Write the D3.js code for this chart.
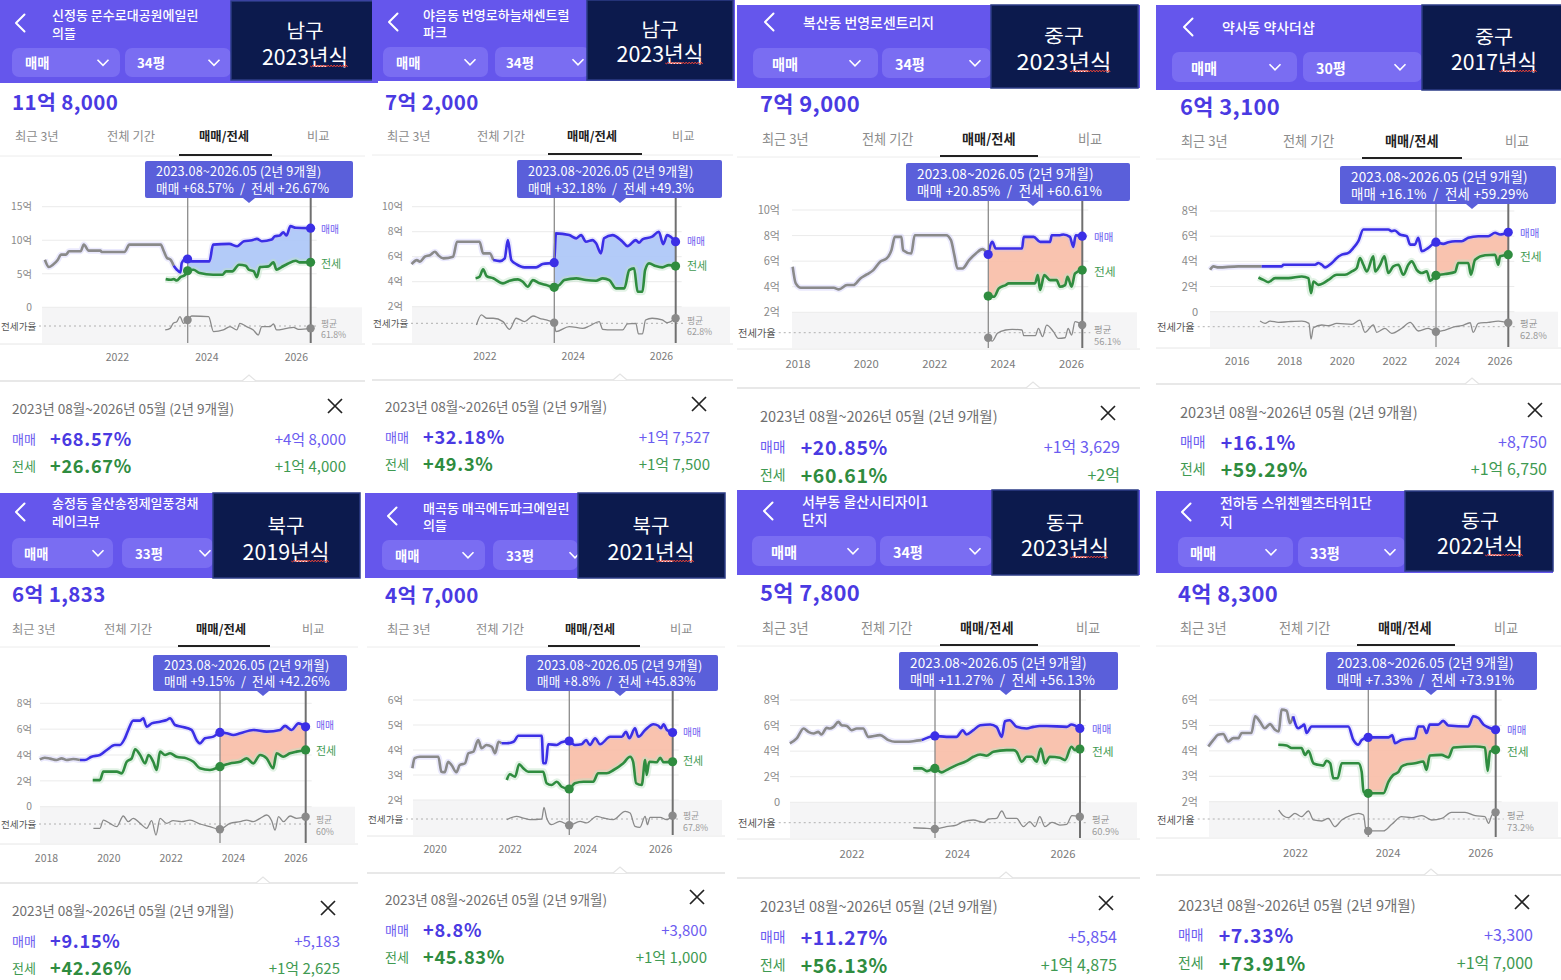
<!DOCTYPE html>
<html><head><meta charset="utf-8">
<script src="https://cdn.jsdelivr.net/npm/d3@7"></script>
<style>
html,body{margin:0;padding:0;background:#fff;}
svg{display:block;font-family:"Noto Sans CJK KR","Noto Sans",sans-serif;}
</style></head><body>
<svg id="c" width="1561" height="980"></svg>
<script>
// ---------------- DATA ----------------
const titles = [["신정동 문수로대공원에일린","의뜰"],["야음동 번영로하늘채센트럴","파크"],["복산동 번영로센트리지"],["약사동 약사더샵"],["송정동 울산송정제일풍경채","레이크뷰"],["매곡동 매곡에듀파크에일린","의뜰"],["서부동 울산시티자이1","단지"],["전하동 스위첸웰츠타워1단","지"]];
const districts = ["남구","남구","중구","중구","북구","북구","동구","동구"];
const builtYears = ["2023년식","2023년식","2023년식","2017년식","2019년식","2021년식","2023년식","2022년식"];
const sizes = ["34평","34평","34평","30평","33평","33평","34평","33평"];
const prices = ["11억 8,000","7억 2,000","7억 9,000","6억 3,100","6억 1,833","4억 7,000","5억 7,800","4억 8,300"];
const salePct = ["+68.57%","+32.18%","+20.85%","+16.1%","+9.15%","+8.8%","+11.27%","+7.33%"];
const jeonsePct = ["+26.67%","+49.3%","+60.61%","+59.29%","+42.26%","+45.83%","+56.13%","+73.91%"];
const saleDiff = ["+4억 8,000","+1억 7,527","+1억 3,629","+8,750","+5,183","+3,800","+5,854","+3,300"];
const jeonseDiff = ["+1억 4,000","+1억 7,500","+2억","+1억 6,750","+1억 2,625","+1억 1,000","+1억 4,875","+1억 7,000"];
const ratioAvg = [61.8,62.8,56.1,62.8,60,67.8,60.9,73.2];
const yTicks = [[0,5,10,15],[2,4,6,8,10],[2,4,6,8,10],[0,2,4,6,8],[0,2,4,6,8],[2,3,4,5,6],[0,2,4,6,8],[2,3,4,5,6]];
const xTicks = [[2022,2024,2026],[2022,2024,2026],[2018,2020,2022,2024,2026],[2016,2018,2020,2022,2024,2026],[2018,2020,2022,2024,2026],[2020,2022,2024,2026],[2022,2024,2026],[2022,2024,2026]];
const saleColorFrom = [2023.27,2022.2,2023.58,2016.95,2019.09,2021.78,2023.33,2021.96];
const periodStart = 2023.583, periodEnd = 2026.333;
const periodShort = "2023.08~2026.05 (2년 9개월)";
const periodLong = "2023년 08월~2026년 05월 (2년 9개월)";
const tabs = ["최근 3년","전체 기간","매매/전세","비교"];

const sale1 = [[2020.39,7.1],[2020.48,6.0],[2020.57,6.35],[2020.68,7.1],[2020.75,7.85],[2020.86,7.85],[2020.93,8.35],[2021.19,8.35],[2021.26,9.35],[2021.37,8.45],[2021.63,8.45],[2021.66,8.25],[2022.17,8.25],[2022.28,9.35],[2022.98,9.35],[2023.05,8.35],[2023.12,7.35],[2023.2,7.1],[2023.27,6.2],[2023.34,5.6],[2023.42,5.2],[2023.45,6.6],[2023.53,7.2],[2023.58,7.2],[2023.67,6.85],[2024.07,6.85],[2024.15,9.35],[2024.51,9.45],[2024.69,9.1],[2024.84,9.85],[2025.02,10.0],[2025.13,10.2],[2025.24,9.85],[2025.46,10.1],[2025.53,10.6],[2025.64,10.7],[2025.72,11.2],[2025.79,10.7],[2025.88,12.1],[2026.0,11.85],[2026.33,11.8]];
const jeonse1 = [[2023.09,4.2],[2023.2,4.1],[2023.27,4.2],[2023.34,4.0],[2023.42,4.5],[2023.53,4.85],[2023.58,5.45],[2023.71,5.6],[2023.85,5.1],[2024.15,4.85],[2024.36,4.85],[2024.44,5.35],[2024.58,5.35],[2024.73,6.35],[2024.88,6.2],[2024.95,5.6],[2025.06,5.35],[2025.13,4.5],[2025.2,6.0],[2025.39,6.1],[2025.5,6.7],[2025.57,5.6],[2025.68,6.0],[2025.82,6.5],[2026.0,6.95],[2026.08,6.7],[2026.33,6.7]];
const ratio1 = [[2023.08,57.4],[2023.19,59.2],[2023.26,64.8],[2023.34,66.6],[2023.41,72.2],[2023.49,64.8],[2023.58,68.5],[2023.67,72.9],[2024.05,72.2],[2024.16,55.5],[2024.38,57.4],[2024.53,61.1],[2024.68,57.4],[2024.75,64.8],[2024.9,61.1],[2025.05,57.4],[2025.16,51.8],[2025.24,61.1],[2025.42,61.1],[2025.5,64.0],[2025.57,57.4],[2025.8,59.2],[2025.95,60.3],[2026.06,58.1],[2026.33,59.2]];

const sale2 = [[2020.35,5.41],[2020.47,5.73],[2020.54,5.6],[2020.65,6.0],[2020.77,6.13],[2020.88,6.4],[2020.95,6.13],[2021.07,5.87],[2021.29,6.0],[2021.38,7.2],[2021.89,7.2],[2021.97,6.27],[2022.12,6.27],[2022.2,5.73],[2022.35,5.65],[2022.46,5.87],[2022.53,7.33],[2022.61,5.73],[2022.72,5.41],[2022.91,5.15],[2023.17,5.15],[2023.32,5.41],[2023.58,5.52],[2023.62,7.87],[2023.92,7.73],[2024.08,7.47],[2024.19,7.73],[2024.3,7.2],[2024.45,7.33],[2024.53,7.07],[2024.64,6.27],[2024.71,7.47],[2024.9,7.73],[2025.13,7.2],[2025.24,6.85],[2025.43,7.33],[2025.5,7.12],[2025.58,7.39],[2025.8,7.6],[2025.95,8.0],[2026.05,7.01],[2026.14,7.73],[2026.33,7.2]];
const jeonse2 = [[2021.8,4.27],[2021.89,4.4],[2021.97,4.99],[2022.05,4.45],[2022.2,4.27],[2022.42,3.87],[2022.57,4.08],[2022.76,4.19],[2022.87,4.0],[2022.98,3.6],[2023.1,4.13],[2023.25,3.87],[2023.4,3.73],[2023.58,3.55],[2023.7,3.73],[2023.81,4.13],[2024.08,4.27],[2024.3,4.13],[2024.53,4.08],[2024.68,4.27],[2024.83,4.13],[2024.98,3.47],[2025.17,3.47],[2025.28,4.93],[2025.39,5.07],[2025.47,3.2],[2025.58,3.2],[2025.64,4.93],[2025.73,5.47],[2025.88,5.25],[2026.03,5.15],[2026.18,5.33],[2026.33,5.25]];
const ratio2 = [[2021.82,60.9],[2021.93,72.1],[2022.05,68.4],[2022.2,68.4],[2022.42,64.7],[2022.57,56.1],[2022.72,68.4],[2022.91,64.7],[2023.1,70.9],[2023.25,68.4],[2023.4,66.5],[2023.58,63.5],[2023.62,53.5],[2023.92,59.1],[2024.23,57.2],[2024.38,59.8],[2024.6,64.7],[2024.68,56.1],[2024.9,55.4],[2025.13,55.4],[2025.24,62.1],[2025.43,62.8],[2025.49,51.0],[2025.58,51.0],[2025.65,66.5],[2025.8,68.4],[2026.03,66.5],[2026.14,63.5],[2026.33,68.4]];

const sale3 = [[2017.86,5.56],[2017.95,4.26],[2018.1,3.92],[2019.06,3.92],[2019.21,3.79],[2019.45,4.13],[2019.64,4.13],[2019.84,4.65],[2020.03,4.96],[2020.22,5.3],[2020.42,5.95],[2020.61,6.21],[2020.75,6.86],[2020.85,7.9],[2021.04,7.9],[2021.09,6.86],[2021.33,6.6],[2021.43,8.03],[2022.35,8.03],[2022.49,7.64],[2022.59,6.47],[2022.68,5.43],[2022.83,5.43],[2023.02,6.08],[2023.22,6.6],[2023.41,6.94],[2023.58,6.52],[2023.7,7.51],[2023.8,6.99],[2024.57,6.99],[2024.62,7.9],[2024.91,7.9],[2025.1,7.51],[2025.39,7.51],[2025.44,8.03],[2025.68,8.03],[2025.78,8.08],[2025.97,7.9],[2026.07,7.12],[2026.14,8.03],[2026.33,7.95]];
const jeonse3 = [[2023.46,3.27],[2023.58,3.27],[2023.75,3.22],[2023.89,3.87],[2024.09,4.13],[2024.18,4.26],[2024.95,4.26],[2025.03,4.91],[2025.1,3.74],[2025.22,4.91],[2025.39,4.52],[2025.58,4.52],[2025.68,4.0],[2025.83,4.13],[2025.9,4.78],[2026.02,4.0],[2026.12,5.04],[2026.33,5.3]];
const ratio3 = [[2023.58,50.5],[2023.7,46.8],[2023.85,55.4],[2024.09,59.1],[2024.28,59.8],[2024.57,59.1],[2024.62,52.8],[2024.96,52.8],[2025.05,60.9],[2025.17,51.7],[2025.29,64.6],[2025.49,57.2],[2025.63,49.8],[2025.83,50.5],[2025.92,60.9],[2026.02,53.5],[2026.12,68.3],[2026.33,64.6]];

const sale4 = [[2014.99,3.33],[2015.12,3.6],[2015.31,3.52],[2016.06,3.6],[2016.95,3.6],[2017.72,3.6],[2017.78,3.73],[2018.98,3.73],[2019.11,3.87],[2019.24,3.73],[2019.36,3.52],[2019.62,3.87],[2019.81,4.27],[2020.0,4.53],[2020.25,4.67],[2020.44,5.07],[2020.63,5.6],[2020.82,6.53],[2021.77,6.53],[2021.9,6.4],[2022.02,6.45],[2022.21,6.13],[2022.47,6.0],[2022.6,5.33],[2022.78,5.33],[2022.91,5.87],[2023.04,4.8],[2023.29,5.07],[2023.58,5.52],[2023.86,5.39],[2024.05,5.52],[2024.31,5.6],[2024.56,5.6],[2024.81,5.87],[2025.19,6.0],[2025.57,6.0],[2025.83,6.27],[2026.02,6.13],[2026.33,6.31]];
const jeonse4 = [[2016.83,2.72],[2017.02,2.53],[2017.21,2.35],[2017.46,2.67],[2017.97,2.67],[2018.48,2.8],[2018.73,2.67],[2018.83,1.47],[2018.92,2.4],[2019.11,2.13],[2019.3,2.27],[2019.49,2.53],[2019.81,2.93],[2020.12,2.93],[2020.38,3.2],[2020.57,3.47],[2020.69,4.27],[2020.82,3.73],[2020.95,3.2],[2021.2,4.4],[2021.27,3.2],[2021.46,3.73],[2021.62,4.4],[2021.77,3.07],[2021.96,3.6],[2022.15,3.73],[2022.34,2.93],[2022.53,3.73],[2022.66,4.0],[2022.85,3.33],[2023.04,3.07],[2023.23,3.2],[2023.36,2.45],[2023.58,2.88],[2023.93,2.99],[2024.31,3.15],[2024.43,3.87],[2024.81,3.87],[2024.91,2.93],[2025.07,4.13],[2025.45,4.48],[2025.83,4.53],[2025.95,3.73],[2026.02,4.4],[2026.33,4.53]];
const ratio4 = [[2016.89,69.1],[2017.08,66.5],[2017.27,69.1],[2017.59,67.6],[2017.97,68.4],[2018.48,69.1],[2018.75,66.5],[2018.83,49.1],[2018.92,61.7],[2019.24,64.7],[2019.49,63.9],[2019.81,66.5],[2020.38,65.4],[2020.69,70.2],[2020.88,56.5],[2021.2,64.7],[2021.33,56.5],[2021.64,61.0],[2021.9,55.4],[2022.28,61.0],[2022.6,67.6],[2022.91,58.0],[2023.29,61.0],[2023.58,57.2],[2023.93,59.1],[2024.31,62.8],[2024.56,63.9],[2024.88,67.2],[2025.0,56.5],[2025.19,66.5],[2025.57,67.6],[2025.95,69.1],[2026.33,67.2]];

const sale5 = [[2017.8,3.66],[2017.96,3.79],[2018.13,3.72],[2018.34,3.61],[2018.5,3.74],[2018.66,3.61],[2018.87,3.69],[2019.09,3.61],[2019.25,3.61],[2019.46,3.87],[2019.73,4.0],[2019.95,4.39],[2020.21,4.77],[2020.37,4.77],[2020.53,5.29],[2020.64,5.94],[2020.8,6.66],[2021.02,6.66],[2021.12,6.84],[2021.23,6.19],[2021.39,6.45],[2021.66,6.58],[2021.87,6.71],[2021.98,6.84],[2022.14,6.32],[2022.35,6.19],[2022.67,5.94],[2022.83,5.16],[2022.94,4.9],[2023.1,5.29],[2023.37,5.42],[2023.58,5.75],[2023.8,5.68],[2024.01,5.55],[2024.23,5.68],[2024.65,5.94],[2025.08,5.81],[2025.51,5.94],[2025.67,6.25],[2025.88,5.94],[2026.1,6.45],[2026.33,6.18]];
const jeonse5 = [[2019.5,2.06],[2019.73,2.06],[2019.84,2.71],[2020.27,2.71],[2020.43,2.58],[2020.59,3.48],[2020.75,3.74],[2020.86,4.44],[2021.02,4.0],[2021.18,3.35],[2021.29,4.0],[2021.44,3.48],[2021.55,2.84],[2021.66,4.26],[2021.82,4.0],[2021.98,4.13],[2022.19,3.87],[2022.51,3.74],[2022.73,3.48],[2022.94,2.97],[2023.26,2.84],[2023.58,3.1],[2023.9,3.35],[2024.23,3.48],[2024.44,3.74],[2024.65,3.35],[2024.87,4.0],[2025.08,3.74],[2025.29,2.97],[2025.4,4.13],[2025.61,3.87],[2025.83,4.13],[2026.04,4.26],[2026.33,4.39]];
const ratio5 = [[2019.52,55.2],[2019.73,55.2],[2019.84,64.4],[2020.05,60.7],[2020.27,57.0],[2020.48,68.9],[2020.64,62.6],[2020.8,66.3],[2021.02,60.7],[2021.23,55.2],[2021.39,63.7],[2021.53,47.8],[2021.66,66.3],[2021.87,60.7],[2022.08,63.7],[2022.35,62.6],[2022.62,64.4],[2022.94,60.0],[2023.26,57.0],[2023.58,54.1],[2023.9,60.7],[2024.23,62.6],[2024.44,64.4],[2024.65,62.6],[2024.87,66.3],[2025.08,70.0],[2025.24,63.7],[2025.35,53.3],[2025.46,68.1],[2025.62,62.6],[2025.83,68.9],[2026.04,66.3],[2026.33,68.1]];

const sale6 = [[2019.41,3.27],[2019.47,3.67],[2019.61,3.73],[2020.1,3.73],[2020.18,3.13],[2020.27,3.11],[2020.36,3.53],[2020.45,3.4],[2020.58,3.11],[2020.67,3.4],[2020.81,3.47],[2020.9,3.87],[2021.03,3.93],[2021.16,4.4],[2021.25,4.07],[2021.38,4.2],[2021.52,4.13],[2021.61,3.87],[2021.7,4.33],[2021.78,4.27],[2021.92,4.27],[2022.1,4.33],[2022.23,4.57],[2022.85,4.57],[2022.89,3.47],[2022.96,3.47],[2023.02,4.23],[2023.25,4.2],[2023.38,4.31],[2023.58,4.36],[2023.73,4.2],[2023.91,4.23],[2024.03,4.4],[2024.13,4.2],[2024.27,4.47],[2024.4,4.23],[2024.67,4.53],[2024.98,4.53],[2025.09,4.73],[2025.18,4.47],[2025.33,4.87],[2025.42,4.53],[2025.6,4.8],[2025.82,5.03],[2025.95,4.97],[2026.02,4.87],[2026.09,5.03],[2026.18,4.8],[2026.33,4.7]];
const jeonse6 = [[2021.92,2.8],[2022.0,3.03],[2022.14,2.93],[2022.25,3.43],[2022.36,3.27],[2022.49,3.13],[2022.89,3.13],[2022.98,2.67],[2023.11,2.6],[2023.25,2.73],[2023.38,2.53],[2023.58,2.44],[2023.73,2.67],[2023.96,2.73],[2024.22,2.73],[2024.35,3.07],[2024.58,3.07],[2024.76,3.2],[2025.02,3.47],[2025.2,3.73],[2025.28,3.53],[2025.36,2.67],[2025.51,2.6],[2025.6,3.6],[2025.64,3.0],[2025.71,3.53],[2025.91,3.51],[2026.0,3.69],[2026.09,3.51],[2026.33,3.53]];
const ratio6 = [[2021.92,67.1],[2022.18,70.8],[2022.36,68.9],[2022.54,67.1],[2022.85,67.8],[2022.91,80.8],[2022.98,68.9],[2023.11,61.5],[2023.33,65.2],[2023.58,60.8],[2023.87,65.2],[2024.04,63.4],[2024.31,70.8],[2024.49,68.9],[2024.75,67.1],[2025.07,76.3],[2025.2,74.5],[2025.33,59.7],[2025.46,58.5],[2025.6,70.8],[2025.66,61.5],[2025.73,69.7],[2026.0,69.7],[2026.17,67.1],[2026.33,71.5]];

const sale7 = [[2020.83,4.6],[2020.96,4.99],[2021.09,5.77],[2021.18,5.51],[2021.28,5.38],[2021.37,5.51],[2021.43,5.3],[2021.53,5.82],[2021.59,5.77],[2021.66,5.9],[2021.75,6.29],[2021.81,6.03],[2021.91,5.97],[2022.0,5.64],[2022.1,5.77],[2022.22,5.77],[2022.32,5.12],[2022.54,5.25],[2022.7,4.86],[2022.82,4.73],[2023.05,4.73],[2023.17,4.78],[2023.33,4.86],[2023.58,5.19],[2023.8,5.12],[2023.99,5.12],[2024.11,5.64],[2024.18,5.3],[2024.31,5.64],[2024.44,6.03],[2024.63,6.08],[2024.75,5.9],[2024.85,5.12],[2024.91,6.34],[2025.0,6.42],[2025.13,5.9],[2025.32,5.77],[2025.45,5.9],[2025.57,5.97],[2025.7,5.97],[2026.08,5.9],[2026.17,6.08],[2026.33,5.78]];
const jeonse7 = [[2023.17,2.65],[2023.33,2.65],[2023.43,2.44],[2023.58,2.65],[2023.71,2.34],[2023.8,2.52],[2023.99,2.91],[2024.18,3.22],[2024.31,3.56],[2024.44,3.74],[2024.56,3.64],[2024.69,3.95],[2024.94,4.08],[2025.07,4.08],[2025.13,3.95],[2025.23,3.17],[2025.32,3.56],[2025.42,3.56],[2025.51,3.17],[2025.59,4.21],[2025.67,3.04],[2025.76,3.56],[2025.95,3.48],[2026.05,3.3],[2026.17,4.34],[2026.24,4.08],[2026.33,4.16]];
const ratio7 = [[2023.17,55.3],[2023.43,54.6],[2023.58,53.9],[2023.8,56.5],[2023.99,58.3],[2024.12,62.0],[2024.31,63.9],[2024.5,61.3],[2024.6,65.0],[2024.75,65.7],[2024.85,73.9],[2024.94,65.7],[2025.13,65.7],[2025.26,56.5],[2025.38,62.0],[2025.48,56.5],[2025.57,67.6],[2025.67,56.5],[2025.8,61.3],[2025.95,58.3],[2026.08,59.0],[2026.18,68.7],[2026.33,67.6]];

const sale8 = [[2020.13,4.17],[2020.24,4.43],[2020.34,4.63],[2020.45,4.66],[2020.56,4.37],[2020.67,4.5],[2020.78,4.5],[2020.85,4.7],[2021.06,4.7],[2021.14,5.36],[2021.24,5.16],[2021.35,4.89],[2021.46,5.05],[2021.57,4.83],[2021.65,4.76],[2021.71,5.62],[2021.82,5.58],[2021.89,5.09],[2021.96,5.36],[2022.07,4.89],[2022.14,4.96],[2022.2,5.03],[2022.25,4.7],[2022.36,4.96],[2023.15,4.96],[2023.26,4.43],[2023.37,4.24],[2023.44,4.43],[2023.58,4.53],[2024.02,4.53],[2024.1,4.61],[2024.16,4.3],[2024.3,4.43],[2024.59,4.5],[2024.66,4.96],[2024.77,4.96],[2024.84,4.7],[2024.91,5.03],[2025.09,5.03],[2025.2,5.18],[2025.31,5.0],[2025.74,4.96],[2025.85,5.36],[2025.96,5.29],[2026.07,5.03],[2026.18,4.92],[2026.33,4.83]];
const jeonse8 = [[2021.64,4.24],[2021.82,4.21],[2021.93,4.11],[2022.14,4.11],[2022.22,3.84],[2022.29,4.0],[2022.4,3.51],[2022.5,3.45],[2022.61,3.42],[2022.68,3.61],[2022.76,3.51],[2022.83,2.92],[2022.92,2.92],[2023.01,3.51],[2023.37,3.51],[2023.44,3.18],[2023.48,2.39],[2023.58,2.33],[2023.91,2.33],[2024.02,2.79],[2024.12,3.05],[2024.23,3.16],[2024.3,3.38],[2024.41,3.47],[2024.59,3.51],[2024.77,3.58],[2024.84,3.25],[2024.91,3.82],[2025.16,3.84],[2025.31,3.74],[2025.42,4.13],[2025.89,4.17],[2026.1,4.13],[2026.16,3.21],[2026.21,3.97],[2026.33,4.04]];
const ratio8 = [[2021.65,83.2],[2021.75,76.9],[2021.86,74.7],[2022.0,79.5],[2022.14,75.8],[2022.29,82.1],[2022.4,72.1],[2022.58,71.0],[2022.72,73.9],[2022.86,64.7],[2023.01,72.1],[2023.22,77.6],[2023.37,79.5],[2023.48,77.6],[2023.53,62.1],[2023.58,59.9],[2023.91,59.9],[2024.09,67.3],[2024.3,75.8],[2024.52,74.7],[2024.74,76.9],[2024.95,72.1],[2025.17,73.9],[2025.38,80.6],[2025.67,80.6],[2025.89,76.9],[2026.1,75.8],[2026.18,68.4],[2026.25,77.6],[2026.33,80.6]];

const saleSeries = [sale1,sale2,sale3,sale4,sale5,sale6,sale7,sale8];
const jeonseSeries = [jeonse1,jeonse2,jeonse3,jeonse4,jeonse5,jeonse6,jeonse7,jeonse8];
const ratioSeries = [ratio1,ratio2,ratio3,ratio4,ratio5,ratio6,ratio7,ratio8];

// ---------------- LAYOUT (positions / styles) ----------------
const layout = [
 {hx0:0,hx1:378,hy0:0,hy1:83,bx0:231,bx1:378,by0:1,by1:80,arrow:[20,23],tx:52,ty:[14,32],dd:[[12,120],[125,231]],ddy:[48,77],ddText:[25,137],chev:[103,214],boxC:[305,29,55],bw:86,nw:37,priceX:12,priceY:101,tabY:136,tabX:[15,107,199,307],ul:[179,272,155],sepY:156,tip:[145,353,161,198],ptr:249,gTop:206.7,gBot:307.3,gL:42,bandB:343,dotY:326,labR:32,vx:[187.7,310.7],axY:356,rx:321,rY:[229,263,323,334],sep2:381,perY:408,xX:[335,406],mY:438,jY:465,valR:346,px0:0,px1:365,fs:1,fill:"#abc5f7"},
 {hx0:372,hx1:735,hy0:0,hy1:81,bx0:587,bx1:733,by0:0,by1:80,arrow:[393,22],tx:423,ty:[14,31],dd:[[383,488],[495,590]],ddy:[47,77],ddText:[396,506],chev:[470,578],boxC:[660,28,52],bw:87,nw:37,priceX:385,priceY:101,tabY:136,tabX:[387,477,567,672],ul:[548,642,154],sepY:155,tip:[517,722,160,198],ptr:620,gTop:206.7,gBot:306.7,gL:412,bandB:343,dotY:323.3,labR:403,vx:[554.3,675.7],axY:355,rx:687,rY:[241,265,320,331],sep2:380,perY:406,xX:[699,404],mY:436,jY:463,valR:710,px0:372,px1:733,fs:1,fill:"#abc5f7"},
 {hx0:737,hx1:1140,hy0:5,hy1:88,bx0:991,bx1:1138,by0:5,by1:88,arrow:[769,22],tx:803,ty:[22],dd:[[753,878],[882,991]],ddy:[48,78],ddText:[772,895],chev:[855,975],boxC:[1064,34,60],bw:95,nw:40,priceX:760,priceY:102,tabY:138,tabX:[762,862,962,1078],ul:[940,1038,156],sepY:157,tip:[906,1130,163,201],ptr:1033,gTop:210,gBot:312.3,gL:792,bandB:348,dotY:332.7,labR:780,vx:[988.3,1082.3],axY:363,rx:1094,rY:[236,270,329,341],sep2:388,perY:415,xX:[1108,413],mY:446,jY:474,valR:1120,px0:737,px1:1140,fs:1.07,fill:"#f8bca6"},
 {hx0:1156,hx1:1561,hy0:5,hy1:90,bx0:1422,bx1:1562,by0:5,by1:90,arrow:[1188,27],tx:1222,ty:[27],dd:[[1172,1297],[1303,1422]],ddy:[52,82],ddText:[1191,1316],chev:[1275,1400],boxC:[1494,35,60],bw:86,nw:38,priceX:1180,priceY:105,tabY:140,tabX:[1181,1283,1385,1505],ul:[1362,1462,158],sepY:159,tip:[1340,1556,166,204],ptr:1472,gTop:211,gBot:311.7,gL:1210,bandB:347,dotY:326.7,labR:1198,vx:[1436,1508.3],axY:360,rx:1520,rY:[232,255,323,335],sep2:384,perY:411,xX:[1535,410],mY:441,jY:468,valR:1547,px0:1156,px1:1561,fs:1.07,fill:"#f8bca6"},
 {hx0:0,hx1:360,hy0:493,hy1:578,bx0:213,bx1:360,by0:493,by1:578,arrow:[20,512],tx:52,ty:[502,520],dd:[[12,113],[122,213]],ddy:[538,568],ddText:[24,135],chev:[98,205],boxC:[286,524,550],bw:87,nw:37,priceX:12,priceY:593,tabY:629,tabX:[12,104,196,302],ul:[178,270,646],sepY:647,tip:[153,347,655,691],ptr:263,gTop:703.3,gBot:806.7,gL:40,bandB:843,dotY:824,labR:32,vx:[220,305.7],axY:857,rx:316,rY:[725,750,819,831],sep2:883,perY:910,xX:[328,908],mY:940,jY:967,valR:340,px0:0,px1:358,fs:1,fill:"#f8bca6"},
 {hx0:365,hx1:725,hy0:493,hy1:578,bx0:578,bx1:725,by0:493,by1:578,arrow:[392,516],tx:423,ty:[507,524],dd:[[382,485],[493,578]],ddy:[540,570],ddText:[395,506],chev:[468,575],boxC:[651,524,550],bw:87,nw:37,priceX:385,priceY:594,tabY:629,tabX:[387,476,565,670],ul:[548,640,646],sepY:647,tip:[526,718,655,691],ptr:620,gTop:700,gBot:800,gL:413,bandB:835,dotY:819,labR:403,vx:[569.3,672.7],axY:848,rx:683,rY:[732,760,815,827],sep2:873,perY:899,xX:[697,897],mY:929,jY:956,valR:707,px0:367,px1:725,fs:1,fill:"#f8bca6"},
 {hx0:737,hx1:1140,hy0:490,hy1:575,bx0:992,bx1:1138,by0:490,by1:575,arrow:[768,511],tx:802,ty:[501,519],dd:[[752,876],[880,992]],ddy:[536,566],ddText:[771,893],chev:[853,975],boxC:[1065,521,546],bw:88,nw:38,priceX:760,priceY:591,tabY:627,tabX:[762,861,960,1076],ul:[940,1038,645],sepY:646,tip:[899,1118,652,690],ptr:1006,gTop:700,gBot:802.3,gL:790,bandB:838,dotY:822.7,labR:780,vx:[935,1080],axY:853,rx:1092,rY:[728,750,819,831],sep2:878,perY:905,xX:[1106,903],mY:936,jY:964,valR:1117,px0:737,px1:1140,fs:1.07,fill:"#f8bca6"},
 {hx0:1156,hx1:1553,hy0:491,hy1:573,bx0:1405,bx1:1553,by0:491,by1:571,arrow:[1186,512],tx:1220,ty:[502,521],dd:[[1178,1293],[1298,1405]],ddy:[537,567],ddText:[1190,1310],chev:[1271,1390],boxC:[1480,519,544],bw:86,nw:38,priceX:1178,priceY:592,tabY:627,tabX:[1180,1279,1378,1494],ul:[1357,1455,645],sepY:646,tip:[1326,1537,652,690],ptr:1431,gTop:700,gBot:801.7,gL:1209,bandB:837,dotY:819,labR:1198,vx:[1368.3,1495.7],axY:852,rx:1507,rY:[729,750,815,827],sep2:875,perY:904,xX:[1522,902],mY:934,jY:962,valR:1533,px0:1156,px1:1561,fs:1.07,fill:"#f8bca6"}
];

const HEADER="#6556ec", DD="#7a6df2", NAVY="#0c1a4d", SALE="#3b2fe6", JEON="#2f8c3f", GRAY="#8a8a8a",
      TIP="#5a5fda", PRICE="#4a3ae2", LSALE="#6b5cf0", LJEON="#3f9a52";

const svg = d3.select("#c");

function drawPanel(i){
  const L = layout[i], f = L.fs;
  const g = svg.append("g");
  const T = (x,y,s,size,color,weight,anchor) => g.append("text").attr("x",x).attr("y",y)
      .attr("dominant-baseline","central").attr("font-size",size*f).attr("fill",color)
      .attr("font-weight",weight||400).attr("text-anchor",anchor||"start").text(s);

  // ---- header ----
  g.append("rect").attr("x",L.hx0).attr("y",L.hy0).attr("width",L.hx1-L.hx0).attr("height",L.hy1-L.hy0).attr("fill",HEADER);
  const [ax,ay] = L.arrow;
  g.append("path").attr("d",`M${ax+4.5},${ay-8.5}L${ax-4},${ay}L${ax+4.5},${ay+8.5}`)
    .attr("fill","none").attr("stroke","#fff").attr("stroke-width",2).attr("stroke-linecap","round").attr("stroke-linejoin","round");
  titles[i].forEach((t,k)=>T(L.tx,L.ty[k],t,13,"#fff",500));
  const ddl = ["매매",sizes[i]];
  L.dd.forEach((d,k)=>{
    const cy=(L.ddy[0]+L.ddy[1])/2;
    g.append("rect").attr("x",d[0]).attr("y",L.ddy[0]).attr("width",d[1]-d[0]).attr("height",L.ddy[1]-L.ddy[0]).attr("rx",7).attr("fill",DD);
    T(L.ddText[k],cy,ddl[k],13.3,"#fff",700);
    const cx=L.chev[k];
    g.append("path").attr("d",`M${cx-5.5},${cy-2.8}L${cx},${cy+2.8}L${cx+5.5},${cy-2.8}`).attr("fill","none").attr("stroke","#fff").attr("stroke-width",1.6);
  });
  g.append("rect").attr("x",L.bx0).attr("y",L.by0).attr("width",L.bx1-L.bx0).attr("height",L.by1-L.by0)
    .attr("fill",NAVY).attr("stroke","#2c3c86").attr("stroke-width",1.5);
  const [bcx,by1,by2] = L.boxC;
  g.append("text").attr("x",bcx).attr("y",by1).attr("dominant-baseline","central").attr("text-anchor","middle")
    .attr("font-size",19).attr("fill","#fff").attr("textLength",L.nw).attr("lengthAdjust","spacingAndGlyphs").text(districts[i]);
  g.append("text").attr("x",bcx).attr("y",by2).attr("dominant-baseline","central").attr("text-anchor","middle")
    .attr("font-size",22).attr("fill","#fff").attr("textLength",L.bw).attr("lengthAdjust","spacingAndGlyphs").text(builtYears[i]);
  // spell-check squiggle under "년식"
  {
    const x0=bcx+L.bw*0.06, x1=bcx+L.bw/2, yy=by2+11;
    let d=`M${x0},${yy}`, k=0;
    for(let xx=x0+1.5; xx<=x1; xx+=1.5, k++) d+=`L${xx},${yy+(k%2?-1:1)}`;
    g.append("path").attr("d",d).attr("fill","none").attr("stroke","#e0413a").attr("stroke-width",1);
  }

  // ---- price & tabs ----
  T(L.priceX,L.priceY,prices[i],20.5,PRICE,700).attr("letter-spacing",0.4);
  g.append("line").attr("x1",L.px0).attr("x2",L.px1).attr("y1",L.sepY).attr("y2",L.sepY).attr("stroke","#ececec");
  tabs.forEach((t,k)=>T(L.tabX[k],L.tabY,t,12.3,k===2?"#222":"#8c8c8c",k===2?700:400));
  g.append("line").attr("x1",L.ul[0]).attr("x2",L.ul[1]).attr("y1",L.ul[2]).attr("y2",L.ul[2]).attr("stroke","#222").attr("stroke-width",2);

  // ---- scales ----
  const x = d3.scaleLinear().domain([periodStart,periodEnd]).range(L.vx);
  const yt = yTicks[i];
  const y = d3.scaleLinear().domain(d3.extent(yt)).range([L.gBot,L.gTop]);
  const avg = ratioAvg[i];
  const r = d3.scaleLinear().domain([avg-10,avg+10]).range([L.dotY+9,L.dotY-9]);

  // band and grid
  g.append("rect").attr("x",L.gL).attr("y",L.gBot).attr("width",L.px1-L.gL-3).attr("height",L.bandB-L.gBot).attr("fill","#f5f5f6");
  g.append("g").selectAll("line").data(yt).join("line")
    .attr("x1",L.gL).attr("x2",L.vx[1]+6).attr("y1",d=>y(d)).attr("y2",d=>y(d)).attr("stroke","#ebebeb");
  g.append("line").attr("x1",L.px0).attr("x2",L.px1).attr("y1",L.bandB+1).attr("y2",L.bandB+1).attr("stroke","#e6e6e6");
  g.append("line").attr("x1",L.px0+39*f).attr("x2",L.vx[1]+8).attr("y1",L.dotY).attr("y2",L.dotY)
    .attr("stroke","#b0b0b0").attr("stroke-dasharray","2,3");
  T(L.px0+1,L.dotY,"전세가율",9.6,"#555");

  // y axis
  const ya = g.append("g").attr("transform",`translate(${L.labR+3},0)`)
    .call(d3.axisLeft(y).tickValues(yt).tickSize(0).tickFormat(d=>d===0?"0":d+"억"));
  ya.select(".domain").remove();
  ya.selectAll("text").attr("font-size",10.3*f).attr("fill","#8a8a8a").attr("font-family","'Noto Sans CJK KR',sans-serif");
  // x axis
  const xa = g.append("g").attr("transform",`translate(0,${L.axY})`)
    .call(d3.axisBottom(x).tickValues(xTicks[i]).tickSize(0).tickPadding(0).tickFormat(d3.format("d")));
  xa.select(".domain").remove();
  xa.selectAll("text").attr("y",0).attr("dy",null).attr("dominant-baseline","central")
    .attr("font-size",10.5*f).attr("fill","#7a7a7a").attr("font-family","'Noto Sans CJK KR',sans-serif");

  const sale = saleSeries[i], jeon = jeonseSeries[i], ratio = ratioSeries[i];
  const inP = d => d[0]>=periodStart-0.01 && d[0]<=periodEnd+0.01;
  const line = d3.line().x(d=>x(d[0])).y(d=>y(d[1])).curve(d3.curveMonotoneX);
  const rline = d3.line().x(d=>x(d[0])).y(d=>r(d[1])).curve(d3.curveMonotoneX);

  // fill between sale & jeonse in comparison period
  const sIn = sale.filter(inP), jIn = jeon.filter(inP).slice().reverse();
  const jPath = d3.line().x(d=>x(d[0])).y(d=>y(d[1])).curve(d3.curveLinear)(jIn);
  g.append("path").attr("d", line(sIn) + "L" + jPath.slice(1) + "Z").attr("fill",L.fill).attr("opacity",0.9);

  // light range bands
  g.append("path").attr("d",line(sale)).attr("fill","none").attr("stroke","#c4bff8").attr("stroke-width",6).attr("opacity",0.35).attr("stroke-linejoin","round");
  g.append("path").attr("d",line(jeon)).attr("fill","none").attr("stroke","#bfe2c5").attr("stroke-width",7).attr("opacity",0.45).attr("stroke-linejoin","round");

  // lines
  const split = saleColorFrom[i];
  g.append("path").attr("d",line(sale.filter(d=>d[0]<=split+1e-6))).attr("fill","none").attr("stroke",GRAY).attr("stroke-width",2.6).attr("stroke-linejoin","round");
  g.append("path").attr("d",line(sale.filter(d=>d[0]>=split-1e-6))).attr("fill","none").attr("stroke",SALE).attr("stroke-width",2.6).attr("stroke-linejoin","round");
  g.append("path").attr("d",line(jeon)).attr("fill","none").attr("stroke",JEON).attr("stroke-width",2.6).attr("stroke-linejoin","round");
  g.append("path").attr("d",rline(ratio)).attr("fill","none").attr("stroke","#8a8a8a").attr("stroke-width",1.3).attr("stroke-linejoin","round");

  // period vertical lines
  g.append("line").attr("x1",x(periodStart)).attr("x2",x(periodStart)).attr("y1",L.tip[3]).attr("y2",L.bandB)
    .attr("stroke","#8c8c8c").attr("stroke-width",1.3);
  g.append("line").attr("x1",x(periodEnd)).attr("x2",x(periodEnd)).attr("y1",L.tip[3]).attr("y2",L.bandB)
    .attr("stroke","#707070").attr("stroke-width",2);

  // dots at period ends
  const near = (arr,t) => d3.least(arr,d=>Math.abs(d[0]-t));
  [periodStart,periodEnd].forEach(t=>{
    const s=near(sale,t), j=near(jeon,t), q=near(ratio,t);
    g.append("circle").attr("cx",x(s[0])).attr("cy",y(s[1])).attr("r",4.6).attr("fill",SALE);
    g.append("circle").attr("cx",x(j[0])).attr("cy",y(j[1])).attr("r",4.6).attr("fill",JEON);
    g.append("circle").attr("cx",x(q[0])).attr("cy",r(q[1])).attr("r",4.2).attr("fill","#8a8a8a");
  });

  // right labels
  T(L.rx,L.rY[0],"매매",9.8,LSALE);
  T(L.rx,L.rY[1],"전세",11,LJEON);
  T(L.rx,L.rY[2],"평균",8.8,"#9a9a9a");
  T(L.rx,L.rY[3],avg+"%",8.8,"#9a9a9a");

  // tooltip
  const [t0,t1,tT,tB] = L.tip;
  g.append("rect").attr("x",t0).attr("y",tT).attr("width",t1-t0).attr("height",tB-tT).attr("rx",2).attr("fill",TIP);
  g.append("path").attr("d",`M${L.ptr-6},${tB}L${L.ptr},${tB+5}L${L.ptr+6},${tB}Z`).attr("fill",TIP);
  T(t0+11,tT+(tB-tT)*0.27,periodShort,12.6,"#fff").attr("letter-spacing",0.2);
  T(t0+11,tT+(tB-tT)*0.72,`매매 ${salePct[i]}  /  전세 ${jeonsePct[i]}`,12.6,"#fff").attr("letter-spacing",0.2).style("white-space","pre");

  // bottom summary
  g.append("line").attr("x1",L.px0).attr("x2",L.px1).attr("y1",L.sep2).attr("y2",L.sep2).attr("stroke","#e8e8e8").attr("stroke-width",2);
  g.append("path").attr("d",`M${L.ptr-7},${L.sep2}L${L.ptr},${L.sep2-6}L${L.ptr+7},${L.sep2}`).attr("fill","#fff").attr("stroke","#e4e4e4").attr("stroke-width",1.2);
  T(L.priceX,L.perY,periodLong,13.6,"#6f6f6f");
  const [cxX,cyX] = L.xX;
  g.append("path").attr("d",`M${cxX-7},${cyX-7}L${cxX+7},${cyX+7}M${cxX+7},${cyX-7}L${cxX-7},${cyX+7}`).attr("stroke","#222").attr("stroke-width",1.7);
  T(L.priceX,L.mY,"매매",13,LSALE);
  T(L.priceX+38*f,L.mY,salePct[i],18.2,PRICE,700).attr("letter-spacing",0.7);
  T(L.valR,L.mY,saleDiff[i],15,LSALE,400,"end");
  T(L.priceX,L.jY,"전세",13,LJEON);
  T(L.priceX+38*f,L.jY,jeonsePct[i],18.2,JEON,700).attr("letter-spacing",0.7);
  T(L.valR,L.jY,jeonseDiff[i],15,LJEON,400,"end");
}

layout.forEach((L,i)=>drawPanel(i));
</script>
</body></html>
